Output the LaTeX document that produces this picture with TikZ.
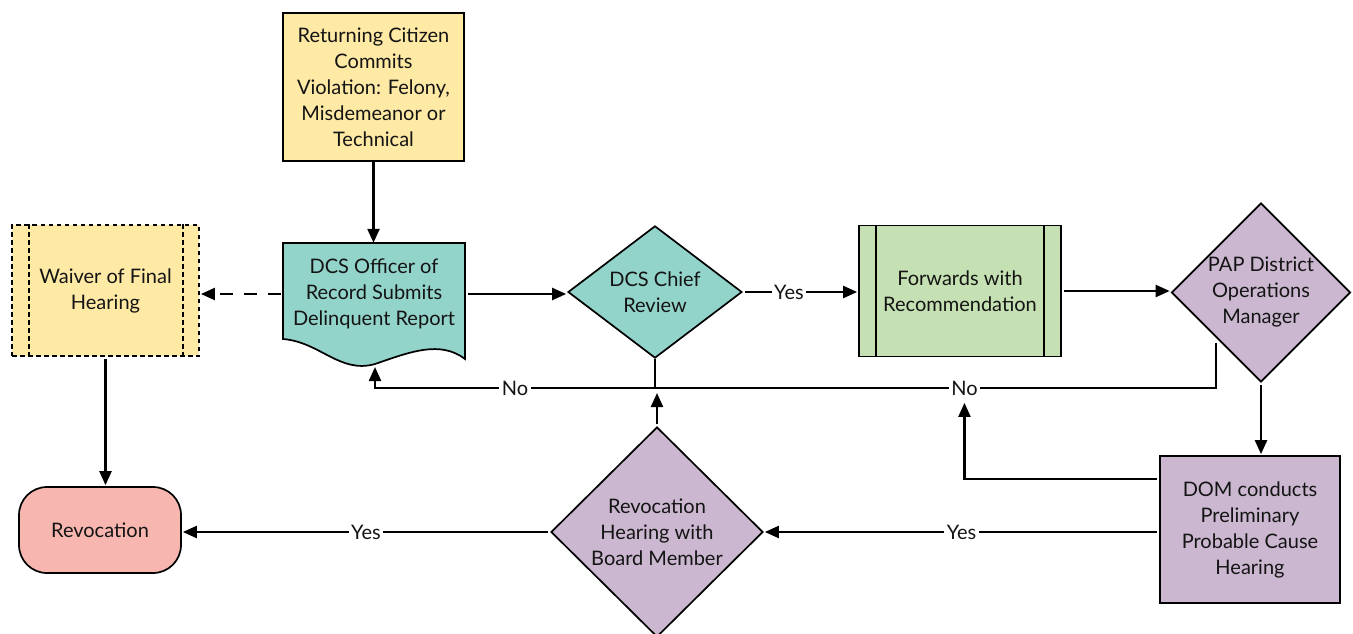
\documentclass[tikz,border=0pt]{standalone}
\usepackage{fontspec}
\setmainfont{Lato}
\usetikzlibrary{shapes.geometric,arrows.meta,calc}
\definecolor{cyel}{HTML}{FEE9A5}
\definecolor{cteal}{HTML}{92D3CA}
\definecolor{cgreen}{HTML}{C5E0B2}
\definecolor{cpurp}{HTML}{CBB8D0}
\definecolor{cpink}{HTML}{F7B7B0}
\begin{document}
\begin{tikzpicture}[x=1pt,y=-1pt,
  every node/.style={font=\fontsize{20}{26}\selectfont, text=black!92, align=center, inner sep=0pt},
  conn/.style={line width=2.3pt, draw=black},
  arr/.style={conn, -{Triangle[length=14pt,width=12pt]}, shorten >=1pt},
  box/.style={draw=black, line width=1.7pt, rectangle, inner sep=0pt},
  diam/.style={draw=black, line width=1.7pt, diamond, inner sep=0pt},
  lbl/.style={fill=white, inner sep=2.5pt},
  dbox/.style={draw=black, line width=1.8pt, dash pattern=on 4.5pt off 3.5pt},
]
\path[use as bounding box, fill=white] (0,0) rectangle (1353,633);

% nodes
\node[box, fill=cyel, minimum width=181, minimum height=148] (cit) at (373.5,87) {Returning Citizen\\Commits\\Violation: Felony,\\Misdemeanor or\\Technical};

\fill[cteal] (283,243) -- (465,243) -- (465,359) .. controls (440,340) and (410,352) .. (375,364) .. controls (340,374) and (320,342) .. (283,339) -- cycle;
\draw[line width=1.7pt] (283,243) -- (465,243) -- (465,359) .. controls (440,340) and (410,352) .. (375,364) .. controls (340,374) and (320,342) .. (283,339) -- cycle;
\node[minimum width=182, minimum height=100] (doc) at (374,294) {DCS Officer of\\Record Submits\\Delinquent Report};
\coordinate (docb) at (375,366);

\node[box, dbox, fill=cyel, minimum width=187, minimum height=131] (wav) at (105.5,290.5) {Waiver of Final\\Hearing};
\draw[dbox] ([xshift=18pt]wav.north west) -- ([xshift=18pt]wav.south west);
\draw[dbox] ([xshift=-17pt]wav.north east) -- ([xshift=-17pt]wav.south east);

\node[diam, fill=cteal, minimum width=174, minimum height=121] (chief) at (655,292) {DCS Chief\\Review};

\node[box, fill=cgreen, minimum width=202, minimum height=131] (fwd) at (960,291) {Forwards with\\Recommendation};
\draw[line width=1.7pt] ([xshift=18pt]fwd.north west) -- ([xshift=18pt]fwd.south west);
\draw[line width=1.7pt] ([xshift=-18pt]fwd.north east) -- ([xshift=-18pt]fwd.south east);

\node[diam, fill=cpurp, minimum width=179, minimum height=179] (pap) at (1261,292.5) {PAP District\\Operations\\Manager};

\node[box, fill=cpurp, minimum width=180, minimum height=147] (dom) at (1250,529.5) {DOM conducts\\Preliminary\\Probable Cause\\Hearing};

\node[diam, fill=cpurp, minimum width=212, minimum height=210] (hear) at (657,532) {Revocation\\Hearing with\\Board Member};

\node[box, fill=cpink, rounded corners=28pt, minimum width=162, minimum height=86] (rev) at (100,530) {Revocation};

\coordinate (j1) at (656,388);
\coordinate (j1b) at (657,392);
\coordinate (papsw) at ($(pap.west)!0.5!(pap.south)$);
\coordinate (domnw) at ($(dom.north west)!0.16!(dom.south west)$);

% connectors
\draw[arr] (cit.south) -- (cit.south |- doc.north);
\draw[arr, dash pattern=on 13pt off 11pt, shorten <=2pt] (doc.west) -- (doc.west -| wav.east);
\draw[arr, shorten <=3pt] (doc.east) -- (doc.east -| chief.west);
\draw[arr, shorten <=2pt] (chief.east) -- node[lbl, pos=0.4]{Yes} (chief.east -| fwd.west);
\draw[arr, shorten <=2pt] (fwd.east) -- (fwd.east -| pap.west);
\draw[arr] (chief.south) -- (chief.south |- j1) -- node[lbl]{No} (j1 -| docb) -- (docb);
\draw[conn, shorten <=5pt] (papsw) -- (papsw |- j1) -- node[lbl, pos=0.449] (no2) {No} (j1);
\draw[arr, shorten <=2pt] (hear.north) -- (j1b);
\draw[arr, shorten <=2pt] (pap.south) -- (pap.south |- dom.north);
\draw[arr, shorten <=2pt] (domnw) -| ([yshift=-3pt]no2.south);
\draw[arr, shorten <=2pt] (dom.west |- hear.east) -- node[lbl]{Yes} (hear.east);
\draw[arr, shorten <=2pt] (hear.west) -- node[lbl]{Yes} (hear.west -| rev.east);
\draw[arr, shorten <=2pt] (wav.south) -- (wav.south |- rev.north);
\end{tikzpicture}
\end{document}
